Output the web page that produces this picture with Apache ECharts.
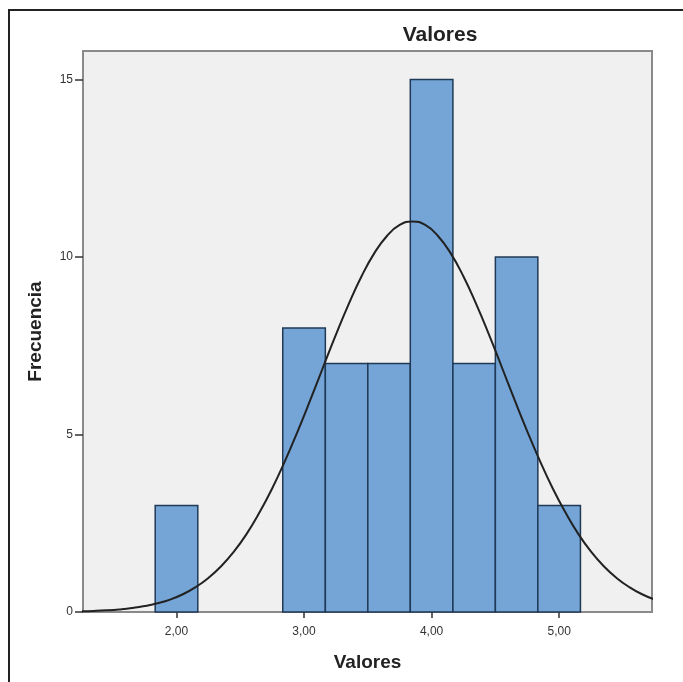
<!DOCTYPE html>
<html>
<head>
<meta charset="utf-8">
<script src="https://cdn.jsdelivr.net/npm/echarts@6/dist/echarts.min.js"></script>
<style>
html,body{margin:0;padding:0;background:#fff;}
#chart{width:683px;height:682px;}
</style>
</head>
<body>
<div id="chart"></div>
<script>
// Histogram bins (start, end) and frequencies
const binStart = [1.833, 2.833, 3.167, 3.500, 3.833, 4.167, 4.500, 4.833];
const binEnd   = [2.167, 3.167, 3.500, 3.833, 4.167, 4.500, 4.833, 5.167];
const counts   = [3, 8, 7, 7, 15, 7, 10, 3];

// Normal curve points
const curveX = [1.25,1.35,1.45,1.55,1.65,1.75,1.85,1.95,2.05,2.15,2.25,2.35,2.45,2.55,2.65,2.75,2.85,2.95,3.05,3.15,3.25,3.35,3.45,3.55,3.65,3.75,3.85,3.95,4.05,4.15,4.25,4.35,4.45,4.55,4.65,4.75,4.85,4.95,5.05,5.15,5.25,5.35,5.45,5.55,5.65,5.75];
const curveY = [0.018,0.029,0.046,0.072,0.110,0.166,0.245,0.35,0.50,0.70,0.96,1.29,1.70,2.20,2.80,3.48,4.25,5.09,5.98,6.90,7.81,8.67,9.45,10.10,10.59,10.90,11.00,10.90,10.59,10.10,9.45,8.67,7.81,6.90,5.98,5.09,4.25,3.48,2.80,2.20,1.70,1.29,0.96,0.70,0.50,0.35];

const xTicks = [2, 3, 4, 5];
const xTickLabels = ['2,00', '3,00', '4,00', '5,00'];
const yTicks = [0, 5, 10, 15];

const barData = binStart.map((s, i) => [s, binEnd[i], counts[i]]);
const curveData = curveX.map((x, i) => [x, curveY[i]]);

const chart = echarts.init(document.getElementById('chart'));
const FONT = '"Liberation Sans", Arial, sans-serif';

chart.setOption({
  animation: false,
  backgroundColor: '#ffffff',
  graphic: [{
    type: 'rect',
    z: -10,
    shape: { x: 9, y: 10, width: 700, height: 700 },
    style: { fill: '#ffffff', stroke: '#222222', lineWidth: 2 }
  }],
  title: {
    text: 'Valores',
    left: 435,
    top: 20,
    textAlign: 'center',
    textStyle: { fontFamily: FONT, fontWeight: 'bold', fontSize: 21, color: '#222' }
  },
  grid: {
    left: 83, right: 31, top: 51, bottom: 70,
    show: true,
    backgroundColor: '#f0f0f0',
    borderColor: '#8a8a8a',
    borderWidth: 2
  },
  xAxis: {
    type: 'value',
    min: 1.267,
    max: 5.728,
    name: 'Valores',
    nameLocation: 'middle',
    nameGap: 41,
    nameTextStyle: { fontFamily: FONT, fontWeight: 'bold', fontSize: 19, color: '#222' },
    axisLine: { show: false },
    splitLine: { show: false },
    axisTick: { show: true, customValues: xTicks, length: 6, lineStyle: { color: '#333', width: 1.5 } },
    axisLabel: {
      customValues: xTicks,
      margin: 14,
      fontFamily: FONT, fontSize: 12, color: '#333',
      formatter: function (v) { const i = xTicks.indexOf(v); return i >= 0 ? xTickLabels[i] : ''; }
    }
  },
  yAxis: {
    type: 'value',
    min: 0,
    max: 15.8,
    name: 'Frecuencia',
    nameLocation: 'middle',
    nameGap: 38,
    nameTextStyle: { fontFamily: FONT, fontWeight: 'bold', fontSize: 19, color: '#222' },
    axisLine: { show: false },
    splitLine: { show: false },
    axisTick: { show: true, customValues: yTicks, length: 8, lineStyle: { color: '#333', width: 1.5 } },
    axisLabel: { customValues: yTicks, margin: 10, fontFamily: FONT, fontSize: 12, color: '#333' }
  },
  series: [{
    type: 'custom',
    data: barData,
    encode: { x: [0, 1], y: 2 },
    renderItem: function (params, api) {
      const p0 = api.coord([api.value(0), api.value(2)]);
      const p1 = api.coord([api.value(1), 0]);
      return {
        type: 'rect',
        shape: { x: p0[0], y: p0[1], width: p1[0] - p0[0], height: p1[1] - p0[1] },
        style: { fill: '#74a5d6', stroke: '#1f3956', lineWidth: 1.5 }
      };
    },
    z: 2
  }, {
    type: 'line',
    data: curveData,
    smooth: true,
    symbol: 'none',
    clip: true,
    lineStyle: { color: '#222', width: 2 },
    z: 3
  }]
});
</script>
</body>
</html>
